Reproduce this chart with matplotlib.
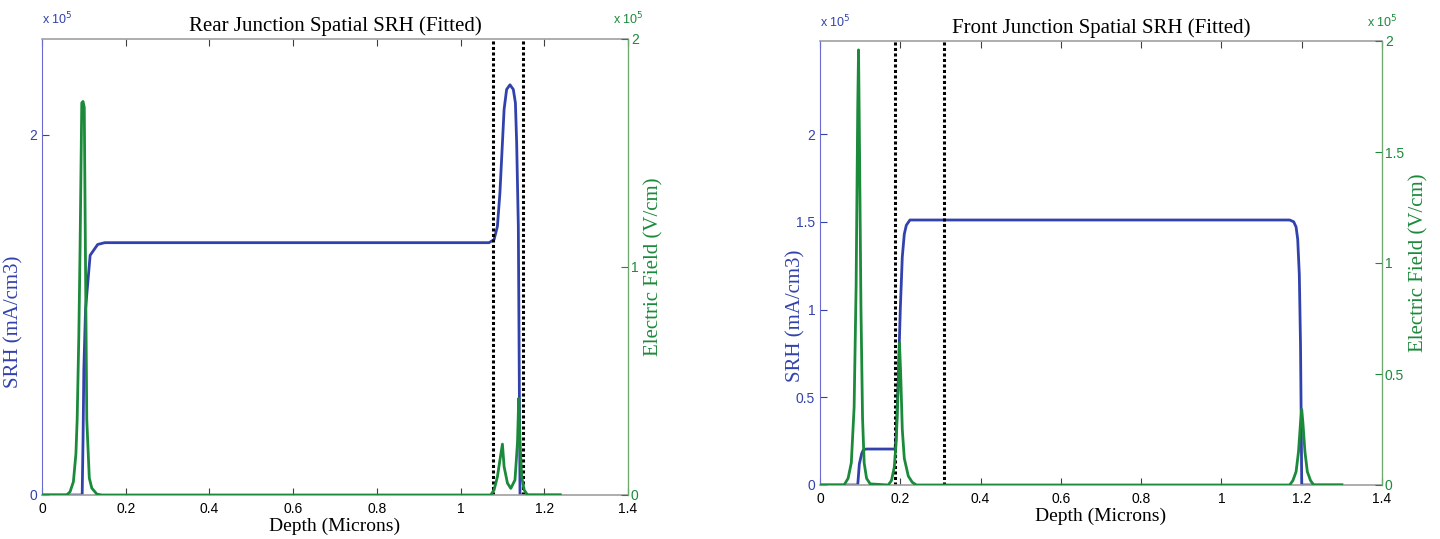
import matplotlib
matplotlib.use("Agg")
import matplotlib.pyplot as plt

# depth in microns, SRH in 1e5 mA/cm3, field in 1e5 V/cm
rear_srh_x = [0, 0.067, 0.096, 0.098, 0.100, 0.104, 0.115, 0.133, 0.15, 1.068, 1.080, 1.088,
              1.094, 1.100, 1.104, 1.110, 1.118, 1.126, 1.131, 1.134, 1.138, 1.140, 1.142, 1.156, 1.238]
rear_srh_y = [0, 0, 0, 0.3, 0.7, 1.03, 1.33, 1.39, 1.40, 1.40, 1.417, 1.49,
              1.676, 1.954, 2.14, 2.25, 2.276, 2.25, 2.176, 1.954, 1.49, 0.75, 0, 0, 0]

rear_ef_x = [0, 0.059, 0.067, 0.075, 0.081, 0.084, 0.088, 0.091, 0.095, 0.098, 0.101, 0.104,
             0.107, 0.113, 0.119, 0.131, 0.143, 1.072, 1.080, 1.088, 1.094, 1.100, 1.104, 1.112,
             1.120, 1.130, 1.136, 1.139, 1.142, 1.146, 1.152, 1.160, 1.238]
rear_ef_y = [0, 0, 0.014, 0.058, 0.18, 0.33, 0.7, 1.09, 1.72, 1.726, 1.70, 1.0,
             0.33, 0.074, 0.03, 0.004, 0, 0, 0.022, 0.08, 0.153, 0.223, 0.124, 0.052,
             0.029, 0.066, 0.23, 0.424, 0.23, 0.08, 0.022, 0, 0]

front_srh_x = [0, 0.094, 0.098, 0.104, 0.108, 0.115, 0.187, 0.190, 0.195, 0.200, 0.205, 0.210,
               0.215, 0.224, 1.170, 1.180, 1.186, 1.190, 1.194, 1.197, 1.199, 1.200, 1.300]
front_srh_y = [0, 0, 0.12, 0.18, 0.2, 0.205, 0.205, 0.3, 0.6, 1.0, 1.3, 1.43,
               1.48, 1.51, 1.51, 1.50, 1.47, 1.40, 1.2, 0.8, 0.3, 0, 0]

front_ef_x = [0, 0.060, 0.070, 0.078, 0.085, 0.090, 0.094, 0.096, 0.098, 0.102, 0.106, 0.110,
              0.116, 0.125, 0.170, 0.178, 0.185, 0.190, 0.195, 0.198, 0.201, 0.205, 0.210,
              0.220, 0.230, 0.240, 1.170, 1.178, 1.186, 1.192, 1.197, 1.200, 1.203, 1.208,
              1.214, 1.222, 1.230, 1.300]
front_ef_y = [0, 0, 0.03, 0.1, 0.35, 0.9, 1.7, 1.96, 1.6, 0.8, 0.3, 0.1,
              0.03, 0.005, 0, 0.02, 0.08, 0.2, 0.45, 0.64, 0.5, 0.25, 0.12,
              0.04, 0.012, 0, 0, 0.02, 0.06, 0.15, 0.28, 0.34, 0.28, 0.15,
              0.06, 0.02, 0, 0]

rear_marks = [1.078, 1.148]
front_marks = [0.188, 0.310]

x_ticks = [0, 0.2, 0.4, 0.6, 0.8, 1.0, 1.2, 1.4]
x_labels = ["0", "0.2", "0.4", "0.6", "0.8", "1", "1.2", "1.4"]
rear_srh_ticks = [0, 2]
rear_srh_labels = ["0", "2"]
rear_ef_ticks = [0, 1, 2]
rear_ef_labels = ["0", "1", "2"]
front_ticks = [0, 0.5, 1, 1.5, 2]
front_labels = ["0", "0.5", "1", "1.5", "2"]

blue = "#3242ac"
green = "#1b8a3a"
serif = "Liberation Serif"
plt.rcParams["font.family"] = "Liberation Sans"


def panel(rect, title, srh_x, srh_y, ef_x, ef_y, marks, lt, ll, rt, rl, lab_x):
    ax = fig.add_axes(rect)
    ax.plot(srh_x, srh_y, color=blue, linewidth=2.0)
    for m in marks:
        ax.axvline(m, color="black", linestyle=(0, (1, 0.8)), linewidth=2.2)
    ax.set_xlim(0, 1.4)
    ax.set_ylim(0, 2.53)
    ax.set_xticks(x_ticks)
    ax.set_xticklabels(x_labels)
    ax.set_yticks(lt)
    ax.set_yticklabels(ll)
    ax.tick_params(axis="x", direction="in", top=True, length=5, labelsize=10,
                   color="#404040", pad=5)
    ax.tick_params(axis="y", direction="in", right=True, length=5, labelsize=10,
                   colors=blue)
    ax.spines["left"].set_color("#6a6ad0")
    for s in ["top", "bottom"]:
        ax.spines[s].set_color("#a0a0a0")
        ax.spines[s].set_linewidth(1.2)
    ax.set_title(title, family=serif, fontsize=15, pad=6)
    ax.set_xlabel("Depth (Microns)", family=serif, fontsize=14, labelpad=1)
    ax.set_ylabel("SRH (mA/cm3)", family=serif, fontsize=15, color=blue)
    ax.yaxis.set_label_coords(lab_x, 0.38)
    ax.text(0, 1.025, r"x 10$^5$", transform=ax.transAxes, color=blue, fontsize=9,
            ha="left", va="bottom")

    ax2 = ax.twinx()
    ax2.plot(ef_x, ef_y, color=green, linewidth=2.0)
    ax2.set_ylim(0, 2)
    ax2.set_yticks(rt)
    ax2.set_yticklabels(rl)
    ax2.tick_params(axis="y", direction="in", length=5, labelsize=10, colors=green, pad=2)
    ax2.spines["right"].set_color("#70a870")
    ax2.spines["left"].set_visible(False)
    for s in ["top", "bottom"]:
        ax2.spines[s].set_visible(False)
    ax2.set_ylabel("Electric Field (V/cm)", family=serif, fontsize=15, color=green, labelpad=4)
    ax2.text(1.0, 1.025, r"x 10$^5$", transform=ax2.transAxes, color=green, fontsize=9,
             ha="center", va="bottom")
    return ax, ax2


fig = plt.figure(figsize=(14.4, 5.39), dpi=100)
panel([42 / 1440, 44 / 539, 586 / 1440, 456 / 539], "Rear Junction Spatial SRH (Fitted)",
      rear_srh_x, rear_srh_y, rear_ef_x, rear_ef_y, rear_marks,
      rear_srh_ticks, rear_srh_labels, rear_ef_ticks, rear_ef_labels, -0.032)
panel([820 / 1440, 54 / 539, 562 / 1440, 444 / 539], "Front Junction Spatial SRH (Fitted)",
      front_srh_x, front_srh_y, front_ef_x, front_ef_y, front_marks,
      front_ticks, front_labels, front_ticks, front_labels, -0.025)

fig.savefig("out.png", dpi=100)
